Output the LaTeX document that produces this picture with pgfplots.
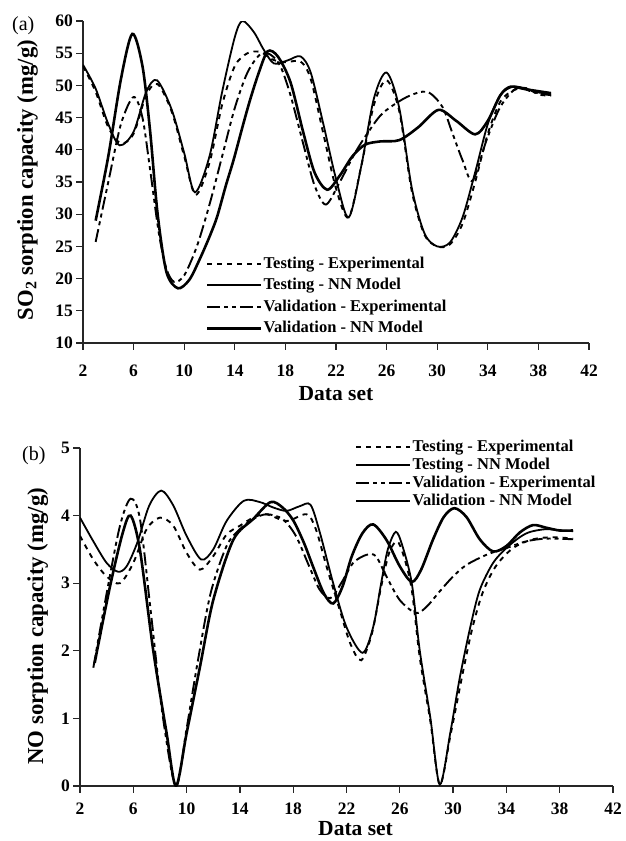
\documentclass[border=0pt]{standalone}
\usepackage{fontspec}
\setmainfont{Liberation Serif}
\usepackage{pgfplots}
\pgfplotsset{compat=1.18}
\pgfplotsset{
  legend image code/.code={\draw[#1] (0pt,0pt) -- (54pt,0pt);},
  myaxis/.style={
    scale only axis,
    axis x line=bottom, axis y line=left,
    axis line style={-, line width=1.4pt, black!85},
    tick align=outside,
    major tick length=6.5pt,
    tick style={line width=1.3pt, black!85},
    xmin=2, xmax=42, xtick={2,6,...,42},
    /pgf/number format/assume math mode=true,
    tick label style={font=\bfseries\fontsize{17.5}{17.5}\selectfont},
    legend cell align=left,
    clip=true,
  },
  texp/.style={black, line width=1.9pt, dash pattern=on 5pt off 5pt, smooth},
  tnn/.style={black, line width=1.8pt, smooth},
  vexp/.style={black, line width=1.9pt, dash pattern=on 13pt off 4pt on 4pt off 4pt on 4pt off 4pt, smooth},
  vnn/.style={black, line width=2.6pt, smooth},
}
\begin{document}
\begin{tikzpicture}
\path[use as bounding box] (0pt,0pt) rectangle (625pt,-841pt);
\node[anchor=base west, inner sep=0pt, font=\fontsize{20}{20}\selectfont] at (12pt,-30pt) {(a)};
\node[anchor=base west, inner sep=0pt, font=\fontsize{20}{20}\selectfont] at (22pt,-460pt) {(b)};
% ---------------- panel (a)
\begin{axis}[myaxis,
  at={(83pt,-343pt)}, anchor=south west,
  width=506pt, height=322pt,
  ymin=10, ymax=60, ytick={10,15,...,60},
  xticklabel style={yshift=-12pt},
  xlabel={Data set},
  ylabel={SO$_\mathbf{2}$ sorption capacity (mg/g)},
  xlabel style={at={(axis description cs:0.5,-0.177)}, anchor=base, font=\bfseries\fontsize{21.5}{21.5}\selectfont},
  ylabel style={at={(axis description cs:-0.099,0.506)}, anchor=base, font=\bfseries\fontsize{22.7}{22.7}\selectfont},
  legend style={at={(0.237,0.28)}, anchor=north west, draw=none, fill=none,
    font=\bfseries\fontsize{16.5}{16.5}\selectfont, row sep=4pt,
    nodes={text height=12pt, text depth=3.5pt, inner sep=1pt}},
]
\addplot[texp] coordinates {(2,53) (3,49) (4,43.5) (5,41) (6,42.5) (7,48.5) (7.9,50.2) (9,46) (10,39) (10.9,33) (12,38) (13,47) (14,53) (15,55) (16,55.2) (17,54) (18,53.6) (19.2,53.7) (20,51) (21,42.5) (22,34) (23,29.5) (24,37.5) (25,47) (26,50.8) (27,46) (28,33.5) (29,26.8) (30,25) (31,25.3) (32,28.5) (33,35) (34,42.5) (35,47.5) (36,49.2) (37,49.6) (38,48.6) (39,48.4)};
\addlegendentry{Testing - Experimental}
\addplot[tnn] coordinates {(2,53.2) (3,49.5) (4,44) (4.9,40.7) (6,42.8) (7,49) (7.85,50.8) (9,46.3) (10,39.5) (10.85,33.4) (12,39) (13,49) (14,57.5) (14.6,60) (15.5,58.3) (16.3,55.5) (17.1,53.4) (18.2,53.9) (19.2,54.5) (20,52) (21,44) (22,35.5) (23,29.5) (24,37.5) (25,48) (26,52) (27,46.5) (28,34) (29,27) (30,25) (31,25.6) (32,29.5) (33,36.5) (34,44) (35,48.5) (36,49.8) (37,49.5) (38,48.9) (39,48.7)};
\addlegendentry{Testing - NN Model}
\addplot[vexp] coordinates {(3,25.7) (4,35) (5,44) (6,48.2) (6.7,45) (7.3,37) (8,27) (8.6,21.5) (9.2,19.5) (10,20.5) (11,25) (12,31.5) (13,39) (14,46.5) (15,52) (16,54.8) (16.8,54.8) (17.6,53) (18.4,48.5) (19.4,41) (20.3,34.5) (21.2,31.5) (22.3,35) (23.5,39.5) (24.5,42.6) (25.7,45.7) (27.6,48.2) (29.2,49) (30.4,46.7) (31.2,42.6) (32,38.4) (32.8,35.2) (33.9,41.5) (35,46.7) (36.3,49.6) (37.5,49) (38.5,48.6) (39,48.5)};
\addlegendentry{Validation - Experimental}
\addplot[vnn] coordinates {(3,29) (4,39) (5,51) (5.9,58) (6.7,53) (7.3,43) (7.9,30) (8.6,21) (9.5,18.5) (10.4,19.8) (11.2,22.9) (12,26.5) (12.6,29.6) (13.3,34.5) (13.9,38.4) (14.6,43.5) (15.2,47.7) (15.9,52) (16.6,55.3) (17.4,54.5) (18.4,50.5) (19.4,42.8) (20.3,36.5) (21.3,33.8) (22.3,36) (23.3,39) (24.3,40.8) (25.5,41.3) (27,41.5) (28.5,43.5) (30.1,46.2) (31.5,44.5) (33,42.4) (34,44.5) (35,48.5) (35.8,49.8) (37,49.4) (39,48.8)};
\addlegendentry{Validation - NN Model}
\end{axis}
% ---------------- panel (b)
\begin{axis}[myaxis,
  at={(80pt,-786pt)}, anchor=south west,
  width=533pt, height=338pt,
  ymin=0, ymax=5, ytick={0,1,...,5},
  xticklabel style={yshift=-7pt},
  xlabel={Data set},
  ylabel={NO sorption capacity (mg/g)},
  xlabel style={at={(axis description cs:0.517,-0.146)}, anchor=base, font=\bfseries\fontsize{21.5}{21.5}\selectfont},
  ylabel style={at={(axis description cs:-0.069,0.473)}, anchor=base, font=\bfseries\fontsize{22.8}{22.8}\selectfont},
  legend style={at={(0.51,1.035)}, anchor=north west, draw=none, fill=none,
    font=\bfseries\fontsize{16.5}{16.5}\selectfont, row sep=0.5pt,
    nodes={text height=12pt, text depth=3.5pt, inner sep=1pt}},
]
\addplot[texp] coordinates {(2,3.7) (3,3.35) (4,3.1) (5,3.0) (6,3.3) (7,3.8) (8,3.97) (9,3.85) (10,3.45) (11,3.2) (12,3.4) (13,3.72) (14,3.85) (15,3.97) (16,4.02) (17.5,3.92) (19,4.02) (19.7,3.8) (20.5,3.25) (21.5,2.6) (22.3,2.1) (23.1,1.86) (23.9,2.25) (24.6,2.95) (25.2,3.45) (25.8,3.62) (26.3,3.4) (26.9,2.9) (27.5,1.9) (28.3,0.95) (29,0.02) (29.8,0.75) (30.6,1.55) (31.4,2.3) (32.2,2.85) (33.2,3.25) (34.5,3.52) (36,3.65) (37.5,3.68) (39,3.66)};
\addlegendentry{Testing - Experimental}
\addplot[tnn] coordinates {(2,3.97) (3,3.62) (4,3.3) (4.85,3.17) (5.5,3.25) (6.3,3.6) (7.2,4.15) (8.1,4.37) (9,4.15) (10,3.7) (11.1,3.35) (12,3.5) (13,3.92) (14.3,4.22) (15.5,4.2) (16.5,4.12) (17.5,4.07) (18.5,4.14) (19.3,4.16) (20,3.75) (21,3.0) (22,2.35) (23.2,1.97) (24,2.35) (24.6,3.0) (25.1,3.5) (25.7,3.76) (26.2,3.55) (26.9,3.0) (27.5,2.0) (28.3,1.0) (29,0.02) (29.8,0.8) (30.5,1.6) (31.3,2.36) (32,2.9) (33,3.3) (34,3.52) (35,3.68) (35.8,3.76) (37,3.8) (38,3.78) (39,3.77)};
\addlegendentry{Testing - NN Model}
\addplot[vexp] coordinates {(3,1.75) (4,2.85) (5,3.85) (5.8,4.25) (6.5,3.95) (7.3,2.6) (8.2,1.05) (9.2,0.0) (10,0.85) (10.8,1.8) (11.8,2.85) (13,3.55) (14,3.8) (15,3.95) (16,4.02) (17.2,3.95) (18.2,3.7) (19.2,3.25) (20,2.9) (20.8,2.78) (21.6,3.0) (22.5,3.3) (23.5,3.42) (24.2,3.4) (25,3.1) (26,2.75) (27.2,2.56) (28,2.65) (29,2.88) (30,3.1) (31,3.27) (32.5,3.42) (34,3.52) (35.5,3.62) (37,3.66) (39,3.65)};
\addlegendentry{Validation - Experimental}
\addplot[vnn] coordinates {(3.1,1.82) (4.25,2.95) (5.2,3.74) (5.8,4.0) (6.5,3.49) (7.5,2.0) (8.5,0.78) (9.2,0.0) (10,0.78) (11,1.76) (12,2.75) (13.5,3.64) (15,3.95) (16.3,4.2) (17.2,4.12) (18,3.93) (18.8,3.6) (19.5,3.24) (20.3,2.85) (21,2.7) (21.7,2.95) (22.4,3.4) (23.2,3.74) (24,3.87) (25,3.64) (26,3.25) (26.9,3.02) (27.6,3.2) (28.5,3.65) (29.3,3.98) (30.1,4.11) (31,3.98) (32,3.65) (33,3.47) (34,3.55) (35,3.75) (36,3.86) (37,3.82) (38,3.78) (39,3.78)};
\addlegendentry{Validation - NN Model}
\end{axis}
\end{tikzpicture}
\end{document}
